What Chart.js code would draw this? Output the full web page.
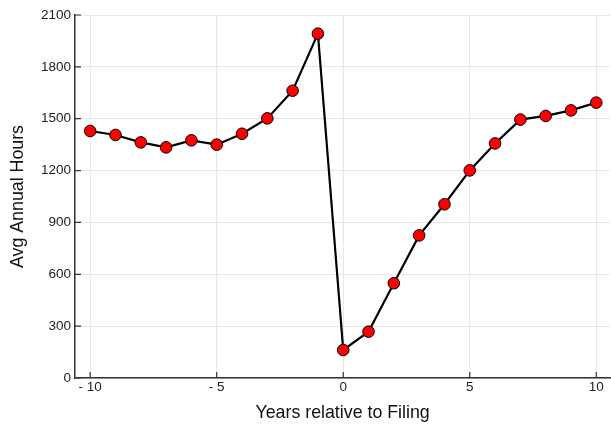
<!DOCTYPE html>
<html>
<head>
<meta charset="utf-8">
<script src="https://cdn.jsdelivr.net/npm/chart.js"></script>
<style>
  html, body { margin: 0; padding: 0; background: #fff; overflow: hidden; }
  #wrap { width: 617px; height: 426px; }
</style>
</head>
<body>
<div id="wrap"><canvas id="myChart"></canvas></div>
<script>
// years relative to filing
const years = [-10, -9, -8, -7, -6, -5, -4, -3, -2, -1, 0, 1, 2, 3, 4, 5, 6, 7, 8, 9, 10];
// average annual hours
const hours = [1429, 1406, 1363, 1334, 1375, 1350, 1413, 1502, 1662, 1992,
               162, 268, 548, 825, 1005, 1201, 1357, 1495, 1516, 1548, 1593];
const xTicks = [-10, -5, 0, 5, 10];
const yTicks = [0, 300, 600, 900, 1200, 1500, 1800, 2100];

const points = years.map((y, i) => ({ x: y, y: hours[i] }));

// ticks drawn inward, like the original
const innerTicks = {
  id: "innerTicks",
  afterDatasetsDraw(chart) {
    const ctx = chart.ctx;
    const xs = chart.scales.x, ys = chart.scales.y;
    const a = chart.chartArea;
    ctx.save();
    ctx.strokeStyle = "#333";
    ctx.lineWidth = 1.2;
    ctx.beginPath();
    xTicks.forEach(v => {
      const px = xs.getPixelForValue(v);
      ctx.moveTo(px, a.bottom);
      ctx.lineTo(px, a.bottom - 6);
    });
    yTicks.forEach(v => {
      const py = ys.getPixelForValue(v);
      ctx.moveTo(a.left, py);
      ctx.lineTo(a.left + 6, py);
    });
    ctx.stroke();
    ctx.restore();
  }
};

const font = "'Liberation Sans', Arial, sans-serif";
Chart.defaults.font.family = font;

new Chart(document.getElementById("myChart").getContext("2d"), {
  type: "scatter",
  data: {
    datasets: [{
      data: points,
      showLine: true,
      borderColor: "#000",
      borderWidth: 2.2,
      pointBackgroundColor: "#ff0000",
      pointBorderColor: "#000",
      pointBorderWidth: 1,
      pointRadius: 5.8,
      pointHoverRadius: 5.8
    }]
  },
  options: {
    responsive: true,
    maintainAspectRatio: false,
    animation: false,
    layout: { padding: { top: 15, right: 0, left: 0, bottom: 0 } },
    plugins: { legend: { display: false }, tooltip: { enabled: false } },
    scales: {
      x: {
        type: "linear",
        min: -10.6,
        max: 10.55,
        afterBuildTicks: s => { s.ticks = xTicks.map(v => ({ value: v })); },
        afterFit: s => { s.height = 48; },
        ticks: {
          color: "#222",
          font: { size: 13.5 },
          padding: 1,
          callback: v => (v < 0 ? "- " + Math.abs(v) : String(v))
        },
        grid: { color: "#e6e6e6", lineWidth: 1, drawTicks: false },
        border: { color: "#333", width: 1.5 },
        title: {
          display: true,
          text: "Years relative to Filing",
          color: "#111",
          font: { size: 17.8 },
          padding: { top: 2, bottom: 2 }
        }
      },
      y: {
        min: 0,
        max: 2100,
        afterBuildTicks: s => { s.ticks = yTicks.map(v => ({ value: v })); },
        afterFit: s => { s.width = 75; },
        ticks: {
          color: "#222",
          font: { size: 13.5 },
          padding: 4,
          callback: v => String(v)
        },
        grid: { color: "#e6e6e6", lineWidth: 1, drawTicks: false },
        border: { color: "#333", width: 1.5 },
        title: {
          display: true,
          text: "Avg Annual Hours",
          color: "#111",
          font: { size: 17.8 },
          padding: { top: 7, bottom: 0 }
        }
      }
    }
  },
  plugins: [innerTicks]
});
</script>
</body>
</html>
